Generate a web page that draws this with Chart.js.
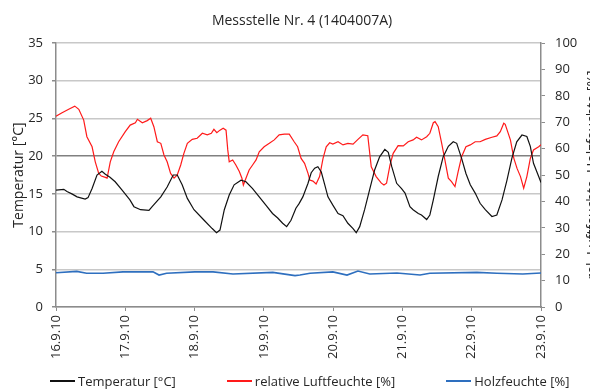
<!DOCTYPE html>
<html lang="de">
<head>
<meta charset="utf-8">
<title>Messstelle Nr. 4</title>
<script src="https://cdn.jsdelivr.net/npm/chart.js@4.4.1/dist/chart.umd.min.js"></script>
<style>
  html, body { margin: 0; padding: 0; background: #fff; overflow: hidden; }
  #wrap { position: relative; width: 590px; height: 389px; }
  #legend {
    position: absolute; left: 50px; top: 373px;
    display: flex; gap: 51px;
    font: 13px/16px "Open Sans", sans-serif; color: #262626; white-space: nowrap;
  }
  #legend .item { display: flex; align-items: center; }
  #legend .item i { display: inline-block; width: 25px; height: 1.3px; margin-right: 3px; }
</style>
</head>
<body>
<div id="wrap">
  <canvas id="chart" width="590" height="389"></canvas>
  <div id="legend"></div>
</div>
<script>
const chartTitle = "Messstelle Nr. 4 (1404007A)";
const leftAxisTitle = "Temperatur [°C]";
const rightAxisTitle = "rel. Luftfeuchte, Holzfeuchte [%]";
const seriesLabels = ["Temperatur [°C]", "relative Luftfeuchte [%]", "Holzfeuchte [%]"];
const dayLabels = ["16.9.10", "17.9.10", "18.9.10", "19.9.10", "20.9.10", "21.9.10", "22.9.10", "23.9.10"];

// hours since 16.9.10 00:00
const tempHours = [
  0, 2.7, 3.8, 5.5, 7.3, 10.1, 11.1, 12.5, 14.2, 15.9, 17.1, 18.7, 20.5, 22.9,
  25.6, 27.0, 29.3, 32.2, 33.3, 36.3, 38.5, 40.6, 42.0, 43.7, 45.5, 47.8,
  51.3, 54.1, 55.6, 56.8, 58.3, 60.0, 61.7, 64.1, 65.8, 68.1, 70.4,
  72.7, 75.0, 76.8, 78.5, 79.9, 81.4, 83.1, 84.2, 85.5, 87.3, 88.4, 89.6, 90.7, 91.9, 93.1, 94.2,
  95.9, 97.7, 99.4, 101.1, 102.9, 104.0, 105.2, 106.9, 108.6, 110.4, 112.1, 113.9, 115.1, 116.3, 118.0,
  119.7, 120.9, 122.6, 123.7, 125.5, 126.6, 128.4, 129.5, 130.7, 132.4, 134.1, 135.9, 137.6, 138.8, 140.5, 142.0,
  143.5, 145.2, 146.9, 148.7, 151.0, 152.7, 154.5, 156.2, 157.9, 159.6, 161.4, 163.1, 164.3, 165.4, 167.2, 168
];
const tempValues = [
  15.5, 15.6, 15.3, 15.0, 14.6, 14.3, 14.5, 15.7, 17.5, 18.0, 17.6, 17.2, 16.6, 15.5,
  14.2, 13.3, 12.9, 12.8, 13.3, 14.6, 15.9, 17.5, 17.5, 16.2, 14.4, 12.9,
  11.5, 10.4, 9.85, 10.2, 12.9, 14.85, 16.2, 16.8, 16.6, 15.7, 14.6,
  13.5, 12.4, 11.8, 11.1, 10.65, 11.5, 13.1, 13.7, 14.6, 16.4, 17.8, 18.4, 18.6, 17.9, 16.2, 14.6,
  13.5, 12.4, 12.1, 11.1, 10.4, 9.85, 10.65, 12.9, 15.5, 18.2, 19.9, 20.9, 20.5, 18.6, 16.4,
  15.7, 15.1, 13.3, 12.9, 12.4, 12.2, 11.6, 12.2, 14.2, 17.3, 19.9, 21.3, 21.9, 21.7, 19.7, 17.7,
  16.2, 15.1, 13.75, 12.9, 12.0, 12.2, 14.2, 16.8, 19.7, 21.9, 22.8, 22.6, 21.3, 19.05, 17.3, 16.5
];

const humHours = [
  0, 2.1, 4.4, 6.5, 7.9, 9.6, 10.7, 12.5, 13.6, 14.8, 15.7, 17.1, 17.7, 18.8, 20.0, 21.7,
  24.0, 25.7, 27.5, 28.2, 29.9, 31.6, 32.8, 33.9, 35.1, 36.3, 37.4, 38.5, 39.7, 40.9, 42.0, 43.2, 44.3, 45.5, 47.2,
  48.9, 50.7, 52.4, 53.8, 54.7, 55.7, 56.8, 57.9, 58.9, 59.5, 60.0, 61.2, 62.3, 63.5, 64.4, 64.9, 65.8, 66.9, 68.1, 69.3, 70.4,
  72.1, 73.9, 75.6, 77.3, 79.1, 80.8, 82.5, 83.7, 84.9, 86.1, 87.3, 87.9, 89.0, 90.1, 91.3, 92.5, 93.6, 94.8,
  95.9, 97.7, 99.4, 101.1, 102.9, 104.6, 106.3, 108.0, 109.2, 110.9, 112.7, 113.6, 114.5, 115.7, 116.8, 118.5,
  120.3, 122.0, 123.7, 124.9, 126.6, 128.4, 129.5, 130.7, 131.3, 132.4, 133.6, 134.7, 135.9, 137.0, 138.2, 139.3, 140.5, 142.0,
  143.5, 145.2, 146.9, 148.7, 151.0, 152.7, 153.9, 155.1, 155.6, 157.4, 158.6, 159.7, 160.9, 162.0, 163.1, 164.3, 165.4, 167.2, 168
];
const humValues = [
  72.3, 73.6, 74.9, 76.1, 74.9, 70.8, 64.5, 60.7, 55.0, 50.6, 49.6, 49.1, 48.8, 55.0, 58.8, 62.6,
  66.4, 68.9, 69.8, 71.1, 69.8, 70.6, 71.5, 68.3, 62.6, 62.0, 57.6, 55.0, 50.6, 48.8, 50.0, 53.8, 58.2, 62.0, 63.5,
  63.9, 65.8, 65.2, 65.8, 67.3, 66.0, 67.0, 67.7, 67.0, 59.5, 55.0, 55.7, 53.8, 51.3, 48.8, 46.2, 48.8, 51.9, 53.8, 55.7, 58.8,
  60.7, 62.0, 63.3, 65.2, 65.5, 65.5, 62.6, 60.7, 56.3, 54.4, 50.6, 48.1, 47.7, 46.6, 49.4, 56.3, 60.7, 62.2,
  61.7, 62.6, 61.4, 62.0, 61.7, 63.5, 65.2, 64.9, 53.1, 49.4, 46.9, 46.2, 46.9, 53.8, 58.2, 61.1,
  61.0, 62.6, 63.3, 64.3, 63.3, 64.5, 65.8, 69.8, 70.2, 68.3, 62.0, 55.7, 48.8, 47.5, 45.6, 51.3, 56.9, 60.7,
  61.4, 62.6, 62.6, 63.5, 64.3, 64.8, 66.4, 69.6, 69.2, 63.3, 56.3, 52.5, 49.4, 45.0, 49.4, 56.3, 59.5, 60.7, 61.5
];

const woodHours = [0, 7.2, 10.6, 16.3, 23.2, 33.6, 35.7, 38.3, 48.1, 54.4, 61.3, 75.1, 82.8, 84.5, 88.0,
  95.9, 100.8, 104.6, 108.7, 118.1, 126.1, 129.5, 145.8, 152.7, 161.7, 168];
const woodValues = [13.0, 13.5, 12.8, 12.8, 13.3, 13.3, 12.1, 12.8, 13.3, 13.3, 12.5, 13.1, 11.9, 12.1, 12.8,
  13.3, 12.1, 13.6, 12.5, 12.9, 12.1, 12.8, 13.1, 12.8, 12.5, 12.9];

const seriesColors = ["#111111", "#ff1a1a", "#2e6fbf"];

const toPoints = (xs, ys) => xs.map((x, i) => ({ x, y: ys[i] }));

const FONT = '"Open Sans", sans-serif';
const INK = "#262626";
Chart.defaults.font.family = FONT;
Chart.defaults.color = INK;

// right axis title reads bottom-to-top and runs off the edge
const sideTitle = {
  id: "sideTitle",
  afterDraw(chart) {
    const { ctx, chartArea } = chart;
    ctx.save();
    ctx.translate(593, (chartArea.top + chartArea.bottom) / 2);
    ctx.rotate(-Math.PI / 2);
    ctx.font = "14px " + FONT;
    ctx.fillStyle = INK;
    ctx.textAlign = "center";
    ctx.textBaseline = "middle";
    ctx.fillText(rightAxisTitle, 0, 0);
    ctx.restore();
  }
};

const chart = new Chart(document.getElementById("chart"), {
  type: "line",
  data: {
    datasets: [
      {
        label: seriesLabels[0],
        data: toPoints(tempHours, tempValues),
        yAxisID: "y",
        borderColor: seriesColors[0],
        borderWidth: 1.2
      },
      {
        label: seriesLabels[1],
        data: toPoints(humHours, humValues),
        yAxisID: "y1",
        borderColor: seriesColors[1],
        borderWidth: 1.2
      },
      {
        label: seriesLabels[2],
        data: toPoints(woodHours, woodValues),
        yAxisID: "y1",
        borderColor: seriesColors[2],
        borderWidth: 1.6
      }
    ]
  },
  options: {
    responsive: false,
    animation: false,
    events: [],
    elements: { point: { radius: 0 }, line: { tension: 0 } },
    layout: { padding: { left: 14, right: 0, top: 0, bottom: 0 } },
    plugins: {
      title: {
        display: true,
        text: chartTitle,
        color: INK,
        font: { size: 14, weight: "normal" },
        padding: { top: 13, bottom: 13.2 }
      },
      legend: { display: false },
      tooltip: { enabled: false }
    },
    scales: {
      x: {
        type: "linear",
        min: 0,
        max: 168,
        afterFit: (s) => { s.height = 82; },
        border: { color: "#8c8c8c", width: 1.5 },
        grid: { drawOnChartArea: false, tickLength: 4, color: "#8c8c8c" },
        ticks: {
          stepSize: 24,
          autoSkip: false,
          minRotation: 90,
          maxRotation: 90,
          padding: 4,
          font: { size: 13 },
          callback: (v) => dayLabels[Math.round(v / 24)]
        }
      },
      y: {
        position: "left",
        min: 0,
        max: 35,
        afterFit: (s) => { s.width = 42; },
        border: { color: "#8c8c8c", width: 1.5 },
        grid: {
          tickLength: 4,
          lineWidth: 1.5,
          color: (c) => (c.tick && c.tick.value === 20 ? "#808080" : "#c8c8c8"),
          tickColor: "#8c8c8c"
        },
        ticks: { stepSize: 5, padding: 9, font: { size: 13 } },
        title: {
          display: true,
          text: leftAxisTitle,
          color: INK,
          font: { size: 14 },
          padding: { top: -3, bottom: 0 }
        }
      },
      y1: {
        position: "right",
        min: 0,
        max: 100,
        afterFit: (s) => { s.width = 49; },
        border: { color: "#8c8c8c", width: 1.5 },
        grid: { drawOnChartArea: false, tickLength: 4, color: "#8c8c8c" },
        ticks: { stepSize: 10, padding: 10, font: { size: 13 } }
      }
    }
  },
  plugins: [sideTitle]
});

// legend row under the axis, built from the datasets
const legendEl = document.getElementById("legend");
chart.data.datasets.forEach((ds) => {
  const item = document.createElement("span");
  item.className = "item";
  const mark = document.createElement("i");
  mark.style.backgroundColor = ds.borderColor;
  item.appendChild(mark);
  item.appendChild(document.createTextNode(ds.label));
  legendEl.appendChild(item);
});
</script>
</body>
</html>
